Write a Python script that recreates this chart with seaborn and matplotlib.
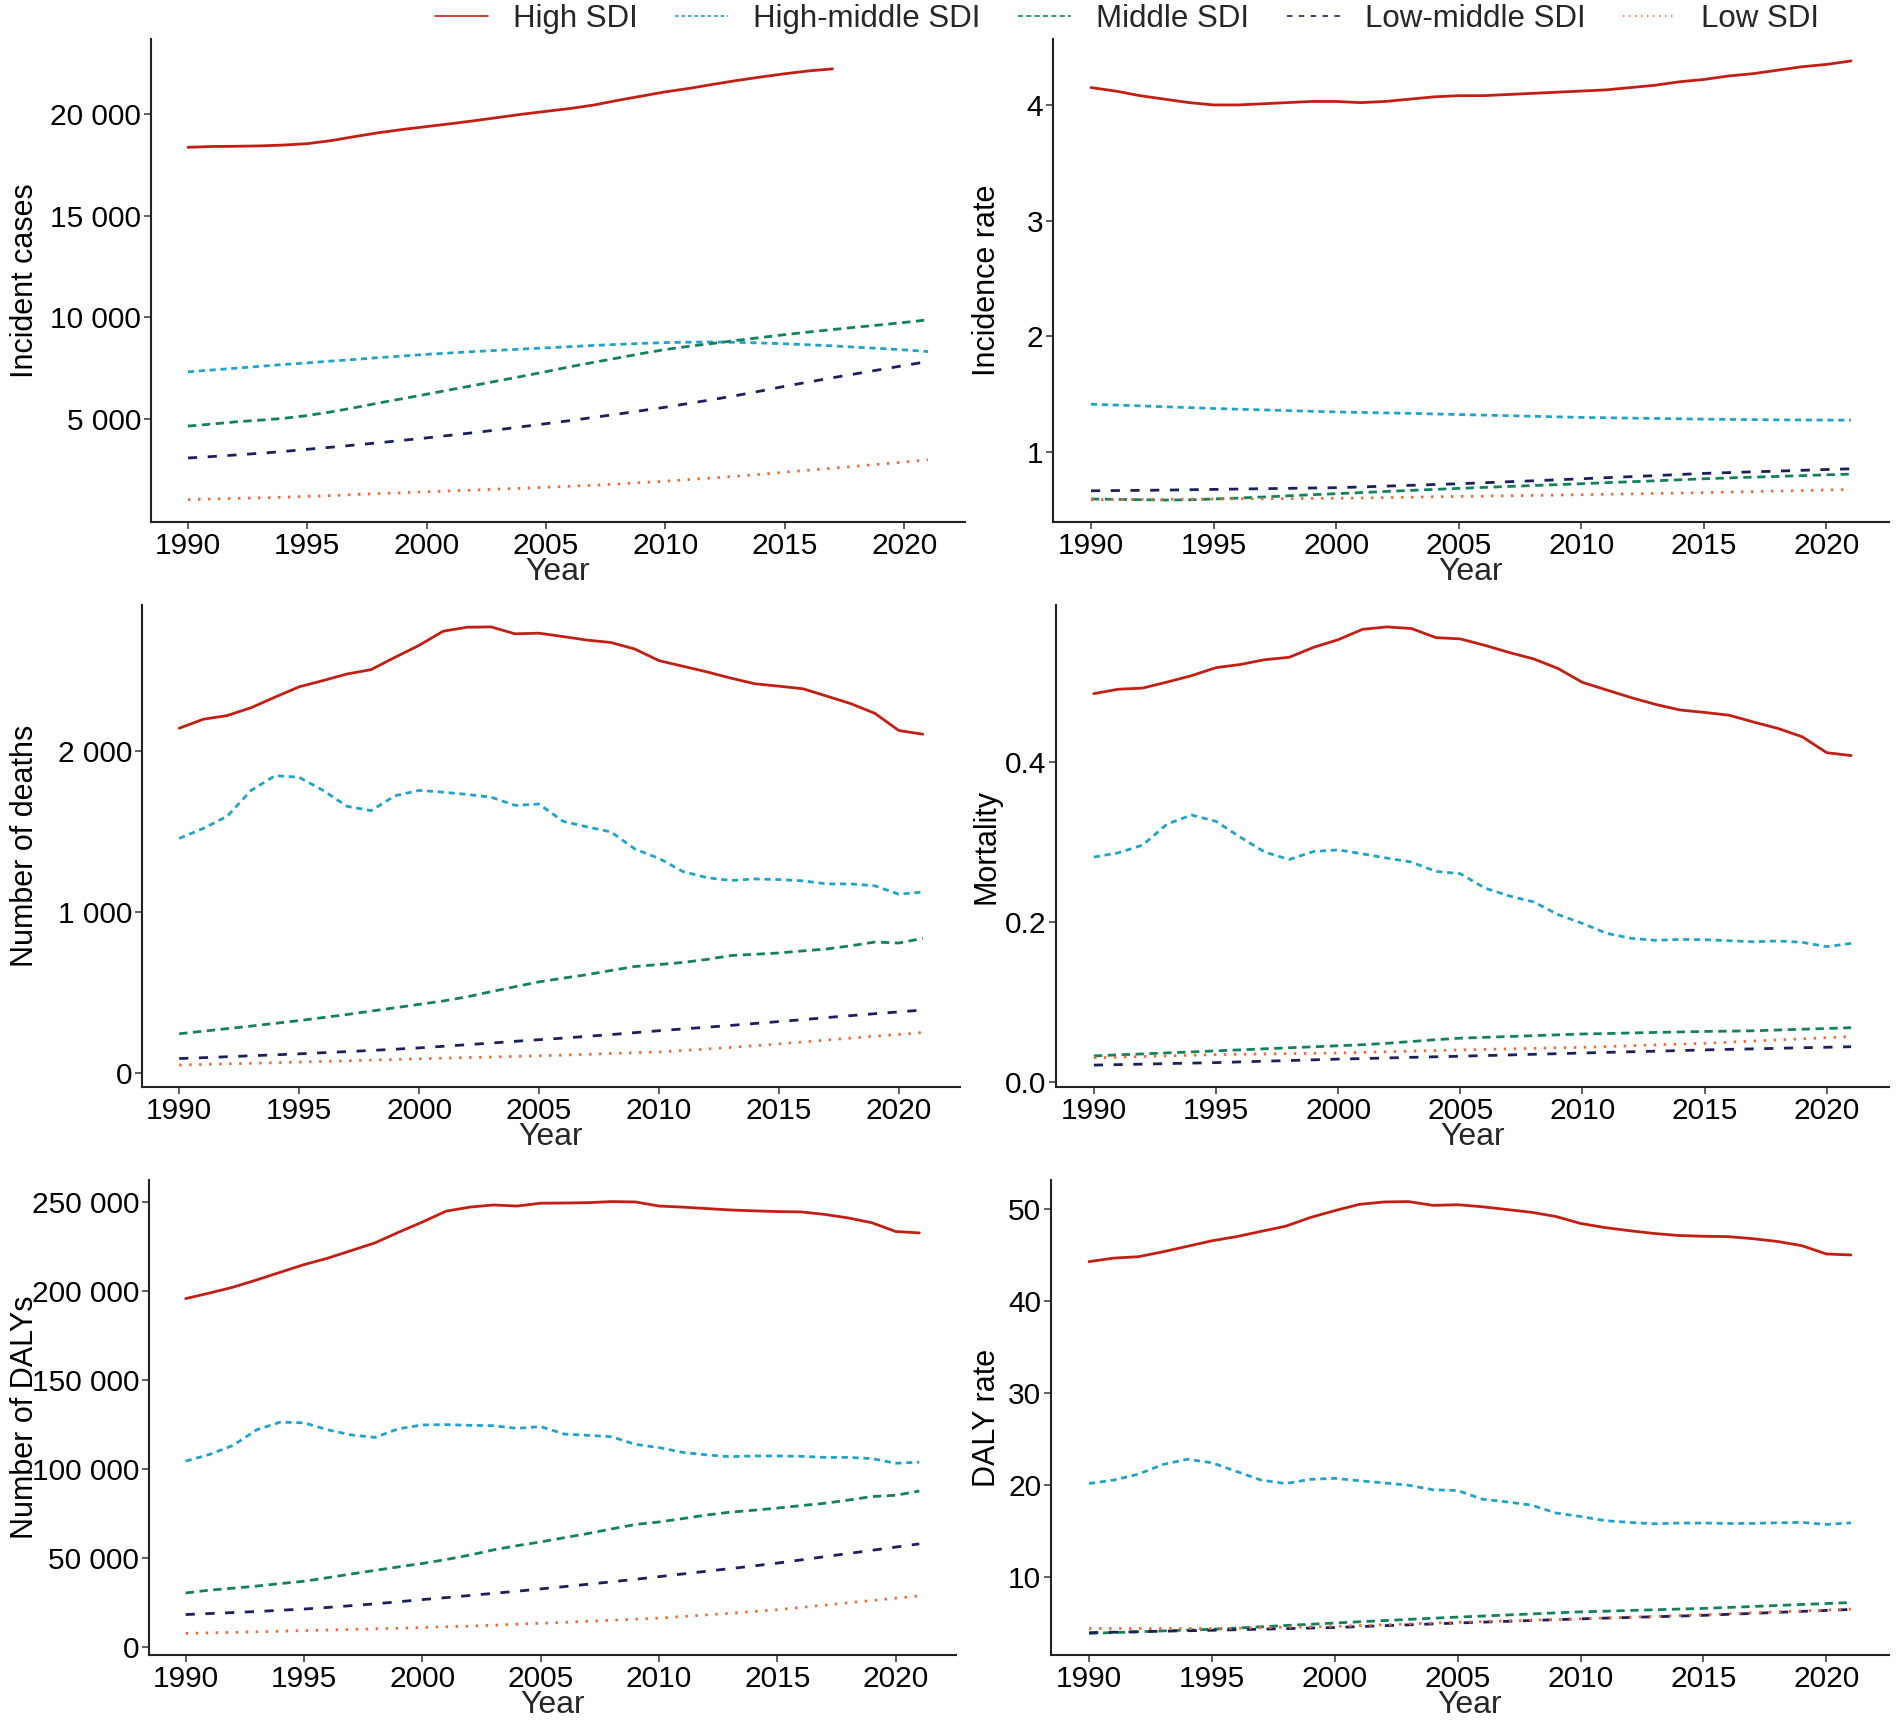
import numpy as np
import pandas as pd
import seaborn as sns
import matplotlib
matplotlib.use("Agg")
import matplotlib.pyplot as plt
from matplotlib.ticker import FuncFormatter
from matplotlib.transforms import blended_transform_factory

nan = np.nan
years = list(range(1990, 2022))
groups = ["High SDI", "High-middle SDI", "Middle SDI", "Low-middle SDI", "Low SDI"]

# Incident cases
inc_high = [18370, 18410, 18420, 18440, 18480, 18550, 18700, 18900, 19090, 19250, 19390, 19530, 19680, 19840, 20000, 20140,
            20280, 20450, 20680, 20890, 21100, 21270, 21470, 21660, 21830, 21990, 22130, 22230, nan, nan, nan, nan]
inc_hmid = [7320, 7410, 7500, 7590, 7680, 7760, 7850, 7930, 8020, 8100, 8180, 8250, 8320, 8380, 8440, 8500,
            8560, 8620, 8670, 8720, 8760, 8780, 8790, 8770, 8740, 8700, 8650, 8600, 8530, 8470, 8400, 8320]
inc_mid = [4650, 4750, 4860, 4940, 5030, 5170, 5350, 5560, 5790, 6000, 6220, 6440, 6660, 6880, 7100, 7330,
           7570, 7790, 8000, 8220, 8420, 8580, 8720, 8870, 9010, 9150, 9280, 9400, 9520, 9630, 9750, 9880]
inc_lmid = [3080, 3150, 3230, 3310, 3400, 3510, 3610, 3720, 3830, 3950, 4070, 4200, 4330, 4470, 4620, 4770,
            4920, 5080, 5240, 5410, 5580, 5770, 5960, 6160, 6380, 6610, 6820, 7030, 7230, 7430, 7630, 7830]
inc_low = [1030, 1060, 1090, 1120, 1150, 1190, 1230, 1280, 1330, 1370, 1420, 1460, 1500, 1550, 1590, 1640,
           1690, 1740, 1800, 1870, 1940, 2020, 2100, 2190, 2280, 2380, 2480, 2580, 2680, 2780, 2880, 2990]

# Incidence rate
ir_high = [4.15, 4.12, 4.08, 4.05, 4.02, 4.00, 4.00, 4.01, 4.02, 4.03, 4.03, 4.02, 4.03, 4.05, 4.07, 4.08,
           4.08, 4.09, 4.10, 4.11, 4.12, 4.13, 4.15, 4.17, 4.20, 4.22, 4.25, 4.27, 4.30, 4.33, 4.35, 4.38]
ir_hmid = [1.414, 1.407, 1.400, 1.392, 1.385, 1.377, 1.371, 1.365, 1.359, 1.353, 1.347, 1.343, 1.339, 1.335, 1.330, 1.325,
           1.320, 1.315, 1.310, 1.305, 1.300, 1.297, 1.294, 1.291, 1.288, 1.285, 1.283, 1.281, 1.279, 1.278, 1.277, 1.276]
ir_mid = [0.595, 0.592, 0.589, 0.586, 0.588, 0.595, 0.603, 0.612, 0.622, 0.632, 0.641, 0.650, 0.660, 0.669, 0.678, 0.687,
          0.695, 0.703, 0.711, 0.719, 0.727, 0.736, 0.744, 0.752, 0.761, 0.770, 0.777, 0.784, 0.790, 0.797, 0.804, 0.810]
ir_lmid = [0.666, 0.668, 0.670, 0.672, 0.675, 0.678, 0.681, 0.684, 0.687, 0.690, 0.693, 0.699, 0.706, 0.713, 0.720, 0.727,
           0.735, 0.744, 0.752, 0.761, 0.770, 0.779, 0.788, 0.797, 0.807, 0.816, 0.823, 0.830, 0.836, 0.843, 0.850, 0.856]
ir_low = [0.589, 0.590, 0.591, 0.592, 0.594, 0.595, 0.596, 0.597, 0.598, 0.600, 0.601, 0.604, 0.607, 0.610, 0.614, 0.617,
          0.620, 0.623, 0.626, 0.629, 0.632, 0.636, 0.639, 0.643, 0.646, 0.650, 0.654, 0.659, 0.664, 0.668, 0.673, 0.678]

# Number of deaths
de_high = [2144, 2200, 2223, 2272, 2338, 2402, 2441, 2482, 2509, 2586, 2660, 2748, 2773, 2775, 2732, 2736,
           2715, 2693, 2678, 2637, 2565, 2530, 2495, 2456, 2421, 2406, 2390, 2344, 2297, 2237, 2130, 2107]
de_hmid = [1458, 1520, 1596, 1757, 1849, 1839, 1757, 1658, 1631, 1724, 1757, 1746, 1732, 1715, 1664, 1672,
           1565, 1530, 1499, 1392, 1334, 1252, 1214, 1196, 1206, 1202, 1194, 1175, 1175, 1163, 1111, 1124]
de_mid = [242, 258, 274, 290, 307, 324, 343, 362, 383, 404, 425, 446, 472, 504, 535, 565,
          588, 610, 636, 661, 673, 686, 705, 729, 737, 745, 758, 770, 790, 813, 807, 836]
de_lmid = [88, 93, 99, 105, 111, 117, 124, 131, 138, 146, 154, 164, 174, 184, 195, 205,
           215, 226, 237, 249, 261, 272, 283, 294, 306, 318, 330, 343, 355, 367, 378, 390]
de_low = [47, 51, 55, 58, 62, 66, 70, 74, 78, 82, 86, 90, 94, 97, 101, 105,
          109, 114, 119, 124, 129, 138, 147, 157, 168, 179, 191, 203, 215, 227, 238, 250]

# Mortality
mo_high = [0.4855, 0.491, 0.4925, 0.500, 0.508, 0.518, 0.522, 0.528, 0.531, 0.5435, 0.553, 0.566, 0.569, 0.567, 0.5556, 0.554,
           0.546, 0.537, 0.529, 0.517, 0.4996, 0.490, 0.4805, 0.472, 0.465, 0.462, 0.4585, 0.450, 0.442, 0.4315, 0.4116, 0.408]
mo_hmid = [0.281, 0.2863, 0.296, 0.3224, 0.3336, 0.3257, 0.3058, 0.2871, 0.278, 0.288, 0.290, 0.285, 0.2797, 0.2747, 0.2631, 0.2602,
           0.2423, 0.2324, 0.2249, 0.2091, 0.198, 0.1855, 0.1793, 0.1768, 0.178, 0.1776, 0.1763, 0.175, 0.176, 0.1743, 0.1689, 0.173]
mo_mid = [0.0322, 0.0335, 0.0347, 0.0360, 0.0372, 0.0385, 0.0398, 0.0411, 0.0424, 0.0436, 0.0449, 0.0462, 0.0480, 0.0502, 0.0525, 0.0544,
          0.0554, 0.0565, 0.0575, 0.0586, 0.0596, 0.0602, 0.0609, 0.0616, 0.0622, 0.0628, 0.0632, 0.0636, 0.0646, 0.0656, 0.0665, 0.0675]
mo_lmid = [0.0207, 0.0213, 0.0219, 0.0226, 0.0232, 0.0238, 0.0247, 0.0256, 0.0264, 0.0273, 0.0282, 0.0289, 0.0296, 0.0304, 0.0311, 0.0318,
           0.0326, 0.0334, 0.0342, 0.0350, 0.0358, 0.0366, 0.0374, 0.0381, 0.0389, 0.0397, 0.0404, 0.0410, 0.0417, 0.0424, 0.0430, 0.0437]
mo_low = [0.0298, 0.0306, 0.0314, 0.0322, 0.0330, 0.0338, 0.0342, 0.0346, 0.0350, 0.0354, 0.0358, 0.0366, 0.0374, 0.0381, 0.0389, 0.0397,
          0.0403, 0.0410, 0.0416, 0.0423, 0.0429, 0.0439, 0.0449, 0.0460, 0.0470, 0.0480, 0.0494, 0.0508, 0.0522, 0.0536, 0.0550, 0.0564]

# Number of DALYs
da_high = [195900, 199000, 202300, 206400, 210700, 215000, 218600, 222900, 227200, 233200, 238900, 245000, 247300, 248500, 247900, 249500,
           249600, 249800, 250400, 250200, 247900, 247300, 246500, 245700, 245200, 244800, 244600, 243200, 241200, 238500, 233600, 232800]
da_hmid = [104600, 108300, 113400, 122200, 126500, 126100, 122200, 119300, 117900, 122800, 124900, 125100, 124700, 124500, 123000, 124000,
           119800, 119100, 118300, 114000, 112200, 109500, 108100, 107100, 107500, 107500, 107300, 106700, 106700, 106000, 103400, 104000]
da_mid = [30500, 32100, 33200, 34400, 35800, 37100, 39100, 41200, 43200, 45200, 47100, 49300, 51800, 54700, 57100, 59200,
          61600, 63900, 66500, 69000, 70400, 72300, 74300, 75900, 77000, 78200, 79600, 80900, 82700, 84700, 85400, 87800]
da_lmid = [18400, 18950, 19500, 20100, 20800, 21500, 22400, 23400, 24400, 25600, 26800, 27900, 29100, 30300, 31500, 32800,
           34100, 35400, 36800, 38200, 39700, 41200, 42700, 44200, 45700, 47300, 49100, 50900, 52700, 54500, 56300, 58100]
da_low = [7800, 8100, 8400, 8700, 9000, 9400, 9700, 10000, 10400, 10700, 11100, 11500, 11900, 12400, 13000, 13500,
          14000, 14600, 15200, 15800, 16400, 17300, 18200, 19100, 20100, 21100, 22400, 23700, 25000, 26300, 27600, 28900]

# DALY rate
dr_high = [44.24, 44.62, 44.77, 45.30, 45.90, 46.50, 46.95, 47.52, 48.08, 49.02, 49.77, 50.45, 50.71, 50.75, 50.34, 50.41,
           50.19, 49.89, 49.59, 49.13, 48.38, 47.93, 47.59, 47.29, 47.07, 46.99, 46.95, 46.73, 46.43, 45.97, 45.07, 44.96]
dr_hmid = [20.17, 20.54, 21.18, 22.23, 22.80, 22.42, 21.48, 20.54, 20.17, 20.62, 20.73, 20.47, 20.24, 19.98, 19.49, 19.41,
           18.47, 18.17, 17.83, 16.97, 16.59, 16.14, 15.95, 15.80, 15.88, 15.88, 15.84, 15.84, 15.91, 15.95, 15.73, 15.91]
dr_mid = [3.91, 4.00, 4.09, 4.18, 4.27, 4.36, 4.49, 4.63, 4.77, 4.90, 5.04, 5.17, 5.30, 5.43, 5.56, 5.68,
          5.79, 5.91, 6.02, 6.14, 6.25, 6.32, 6.40, 6.47, 6.55, 6.62, 6.73, 6.83, 6.94, 7.05, 7.15, 7.26]
dr_lmid = [3.99, 4.04, 4.09, 4.15, 4.20, 4.25, 4.31, 4.37, 4.43, 4.49, 4.55, 4.65, 4.75, 4.84, 4.94, 5.04,
           5.13, 5.22, 5.31, 5.40, 5.49, 5.57, 5.64, 5.72, 5.79, 5.87, 5.98, 6.08, 6.19, 6.30, 6.40, 6.51]
dr_low = [4.44, 4.44, 4.44, 4.44, 4.44, 4.44, 4.48, 4.53, 4.58, 4.62, 4.67, 4.76, 4.85, 4.94, 5.03, 5.12,
          5.19, 5.27, 5.34, 5.42, 5.49, 5.58, 5.67, 5.76, 5.85, 5.94, 6.04, 6.14, 6.25, 6.35, 6.45, 6.55]

panels = [
    ("Incident cases", [inc_high, inc_hmid, inc_mid, inc_lmid, inc_low], [5000, 10000, 15000, 20000]),
    ("Incidence rate", [ir_high, ir_hmid, ir_mid, ir_lmid, ir_low], [1, 2, 3, 4]),
    ("Number of deaths", [de_high, de_hmid, de_mid, de_lmid, de_low], [0, 1000, 2000]),
    ("Mortality", [mo_high, mo_hmid, mo_mid, mo_lmid, mo_low], [0.0, 0.2, 0.4]),
    ("Number of DALYs", [da_high, da_hmid, da_mid, da_lmid, da_low], [0, 50000, 100000, 150000, 200000, 250000]),
    ("DALY rate", [dr_high, dr_hmid, dr_mid, dr_lmid, dr_low], [10, 20, 30, 40, 50]),
]

palette = {"High SDI": "#C21F14", "High-middle SDI": "#1FA3C6", "Middle SDI": "#13825A",
           "Low-middle SDI": "#1B1F5C", "Low SDI": "#F06A3D"}
dashes = {"High SDI": "", "High-middle SDI": (2.2, 1.7), "Middle SDI": (3.0, 2.0),
          "Low-middle SDI": (3.3, 3.8), "Low SDI": (0.9, 2.7)}

sns.set_style("white")
plt.rcParams['font.family'] = ['Liberation Sans', 'DejaVu Sans']

W, H = 1898, 1727
fig = plt.figure(figsize=(W / 100, H / 100), dpi=100)

# axes boxes in pixels: left, right, top, bottom
boxes = [(151, 965, 39, 522), (1053, 1889, 39, 522),
         (142, 960, 605, 1087), (1056, 1889, 605, 1087),
         (149, 956, 1180, 1655), (1051, 1889, 1180, 1655)]
label_x = [40, 1002, 40, 1002, 40, 1002]


def fmt(v, pos):
    if abs(v - round(v)) < 1e-9 and abs(v) >= 1000:
        return f"{int(round(v)):,}".replace(",", " ")
    if abs(v - round(v)) < 1e-9:
        return str(int(round(v)))
    return f"{v:.1f}"


axes = []
for i, (ylab, series, yt) in enumerate(panels):
    l, r, t, b = boxes[i]
    ax = fig.add_axes([l / W, 1 - b / H, (r - l) / W, (b - t) / H])
    df = pd.DataFrame({
        "Year": years * 5,
        "value": sum([list(s) for s in series], []),
        "group": sum([[g] * len(years) for g in groups], []),
    })
    sns.lineplot(data=df, x="Year", y="value", hue="group", style="group",
                 hue_order=groups, style_order=groups, palette=palette, dashes=dashes,
                 linewidth=2.0, estimator=None, ax=ax, legend=(i == 0))
    ax.set_xlim(1988.45, 2022.55)
    if i == 0:
        ax.set_ylim(-70, 23700)
    ax.set_xticks([1990, 1995, 2000, 2005, 2010, 2015, 2020])
    ax.set_yticks(yt)
    ax.yaxis.set_major_formatter(FuncFormatter(fmt))
    if ylab == "Mortality":
        ax.yaxis.set_major_formatter(FuncFormatter(lambda v, p: f"{v:.1f}"))
    ax.tick_params(axis="both", length=5, width=1.1, color="#333333", pad=2, direction="out",
                   bottom=True, left=True, labelsize=21.5, labelcolor="black")
    ax.set_xlabel("Year", fontsize=23, labelpad=-2)
    ax.set_ylabel(ylab, fontsize=22, color="black")
    ax.yaxis.set_label_coords(label_x[i] / W, 0.5,
                              transform=blended_transform_factory(fig.transFigure, ax.transAxes))
    sns.despine(ax=ax)
    for sp in ("left", "bottom"):
        ax.spines[sp].set_color("#222222")
        ax.spines[sp].set_linewidth(1.5)
    axes.append(ax)

handles, labels = axes[0].get_legend_handles_labels()
axes[0].get_legend().remove()
for h in handles:
    h.set_linewidth(1.2)
fig.legend(handles, labels, loc="center", bbox_to_anchor=(1127 / W, 1 - 19 / H), ncol=5,
           frameon=False, fontsize=22.5, handlelength=1.7, handletextpad=0.8, columnspacing=1.2)

fig.savefig("out.png", dpi=100, facecolor="white")
